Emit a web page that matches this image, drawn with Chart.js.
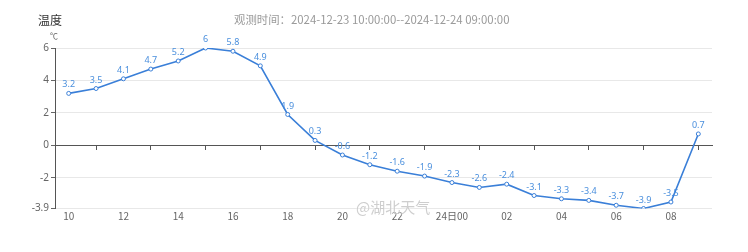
<!DOCTYPE html>
<html>
<head>
<meta charset="utf-8">
<script src="https://cdn.jsdelivr.net/npm/chart.js@4"></script>
<style>
  body { margin: 0; background: #fff; }
  #wrap { position: relative; width: 748px; height: 252px; font-family: "Noto Sans CJK SC", "Noto Sans", sans-serif; }
  #title { position: absolute; left: 38px; top: 11px; font-size: 12px; color: #333; }
  #sub { position: absolute; left: 234px; top: 11px; font-size: 11.4px; color: #9a9a9a; white-space: nowrap; }
  #unit { position: absolute; left: 50px; top: 30px; font-size: 8px; color: #666; }
  #mark { position: absolute; left: 356px; top: 196px; font-size: 15px; color: rgba(190,190,190,0.75); text-shadow: 0 0 2px #fff; white-space: nowrap; }
</style>
</head>
<body>
<div id="wrap">
  <canvas id="chart" width="748" height="252"></canvas>
  <div id="title">温度</div>
  <div id="sub">观测时间：2024-12-23 10:00:00--2024-12-24 09:00:00</div>
  <div id="unit">℃</div>
  <div id="mark">@湖北天气</div>
</div>
<script>
// 逐小时温度
var hours = ['10','11','12','13','14','15','16','17','18','19','20','21','22','23',
             '24日00','01','02','03','04','05','06','07','08','09'];
var temps = [3.2, 3.5, 4.1, 4.7, 5.2, 6, 5.8, 4.9, 1.9, 0.3, -0.6, -1.2, -1.6, -1.9,
             -2.3, -2.6, -2.4, -3.1, -3.3, -3.4, -3.7, -3.9, -3.5, 0.7];
var yTicks = [6, 4, 2, 0, -2, -3.9];

var lineColor = '#3a7fd8';
var labelColor = '#4a8fdd';

// etiquetas de valor encima de cada punto
var valueLabels = {
  id: 'valueLabels',
  afterDatasetsDraw: function(chart) {
    var ctx = chart.ctx;
    var meta = chart.getDatasetMeta(0);
    ctx.save();
    ctx.font = '9px "Noto Sans", sans-serif';
    ctx.fillStyle = labelColor;
    ctx.textAlign = 'center';
    ctx.textBaseline = 'bottom';
    meta.data.forEach(function(pt, i) {
      ctx.fillText(String(temps[i]), pt.x, pt.y - 4);
    });
    ctx.restore();
  }
};

new Chart(document.getElementById('chart').getContext('2d'), {
  type: 'line',
  data: {
    labels: hours,
    datasets: [{
      data: temps,
      borderColor: lineColor,
      borderWidth: 1.6,
      pointRadius: 2,
      pointBackgroundColor: '#fff',
      pointBorderColor: lineColor,
      pointBorderWidth: 1,
      tension: 0
    }]
  },
  options: {
    responsive: false,
    animation: false,
    layout: { padding: { left: 0, right: 36, top: 48, bottom: 0 } },
    plugins: { legend: { display: false }, tooltip: { enabled: false } },
    scales: {
      x: {
        type: 'category',
        offset: true,
        grid: { display: false, drawTicks: false, tickLength: 0 },
        border: { display: false },
        ticks: {
          autoSkip: false,
          maxRotation: 0,
          padding: 2,
          color: '#666',
          font: { size: 10, family: '"Noto Sans CJK SC", sans-serif' },
          callback: function(v, i) { return i % 2 === 0 ? hours[i] : ''; }
        },
        afterFit: function(s) { s.height = 43.5; }
      },
      x0: {
        type: 'category',
        axis: 'x',
        offset: true,
        position: { y: 0 },
        grid: {
          drawOnChartArea: false,
          tickLength: 4,
          color: function(c) { return c.index % 2 === 1 ? '#555' : 'rgba(0,0,0,0)'; }
        },
        border: { color: '#555', width: 1 },
        ticks: { display: false, autoSkip: false }
      },
      y: {
        min: -3.9,
        max: 6,
        afterBuildTicks: function(s) { s.ticks = yTicks.map(function(v) { return { value: v }; }); },
        grid: {
          color: function(c) { return c.tick && c.tick.value === 0 ? '#555' : '#e8e8e8'; },
          tickColor: '#666',
          tickLength: 4
        },
        border: { color: '#555' },
        ticks: {
          padding: 2,
          color: '#666',
          font: { size: 10, family: '"Noto Sans", sans-serif' }
        },
        afterFit: function(s) { s.width = 55; }
      }
    }
  },
  plugins: [valueLabels]
});
</script>
</body>
</html>
